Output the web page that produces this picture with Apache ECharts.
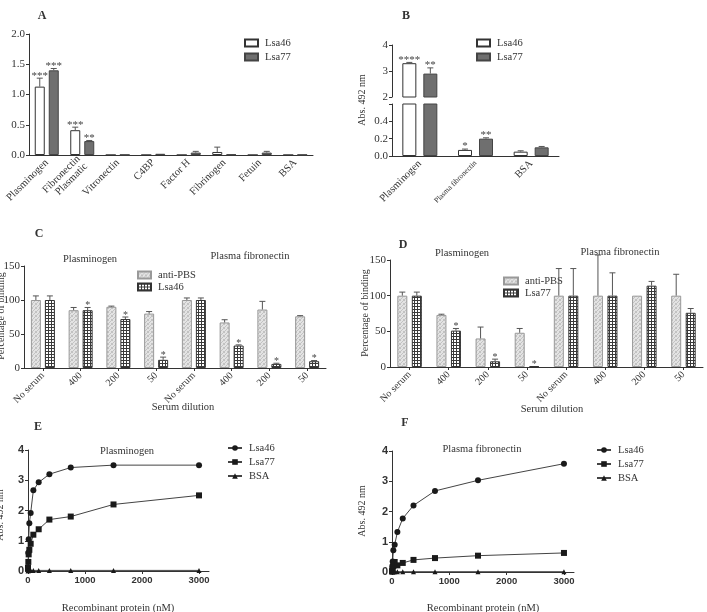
<!DOCTYPE html>
<html>
<head>
<meta charset="utf-8">
<script src="https://cdn.jsdelivr.net/npm/echarts@6/dist/echarts.min.js"></script>
<style>html,body{margin:0;padding:0;background:#fff}#chart{width:707px;height:612px}</style>
</head>
<body>
<div id="chart"></div>
<script>
// panel A - binding to ECM / plasma components
const catsA = ['Plasminogen', 'Fibronectin\nPlasmatic', 'Vitronectin', 'C4BP', 'Factor H', 'Fibrinogen', 'Fetuin', 'BSA'];
const a46 = [1.13, 0.41, 0, 0, 0, 0.05, 0, 0];
const a46Err = [1.27, 0.46, 0, 0, 0, 0.13, 0, 0];
const a46Sig = ['***', '***', '', '', '', '', '', ''];
const a77 = [1.40, 0.23, 0.005, 0.02, 0.04, 0.01, 0.04, 0.005];
const a77Err = [1.43, 0.24, 0.005, 0.025, 0.06, 0.015, 0.06, 0.005];
const a77Sig = ['***', '**', '', '', '', '', '', ''];

// panel B - broken axis
const catsB = ['Plasminogen', 'Plasma fibronectin', 'BSA'];
const b46 = [3.3, 0.07, 0.05];
const b46Err = [3.33, 0.08, 0.06];
const b46Sig = ['****', '*', ''];
const b77 = [2.9, 0.2, 0.1];
const b77Err = [3.12, 0.21, 0.11];
const b77Sig = ['**', '**', ''];

// panels C, D - inhibition by serum
const catsCD = ['No serum', '400', '200', '50', 'No serum', '400', '200', '50'];
const cPbs = [100, 85, 90, 80, 100, 67, 86, 76];
const cPbsErr = [106, 89, 91, 83, 103, 71, 98, 77];
const c46 = [100, 85, 72, 12, 100, 33, 6, 10];
const c46Err = [106, 89, 75, 16, 103, 34, 7, 11];
const c46Sig = ['', '*', '*', '*', '', '*', '*', '*'];
const dPbs = [100, 73, 40, 48, 100, 100, 100, 100];
const dPbsErr = [105, 74, 56, 54, 138, 157, 100, 130];
const d77 = [100, 51, 8, 1, 100, 100, 114, 76];
const d77Err = [105, 54, 11, 1.5, 138, 132, 120, 82];
const d77Sig = ['', '*', '*', '*', '', '', '', ''];

// panels E, F - dose response (nM)
const conc = [0, 5.86, 11.7, 23.4, 46.9, 93.75, 187.5, 375, 750, 1500, 3000];
const e46 = [0.1, 0.6, 1.05, 1.58, 1.92, 2.67, 2.93, 3.2, 3.42, 3.5, 3.5];
const e77 = [0.1, 0.3, 0.55, 0.7, 0.9, 1.2, 1.38, 1.7, 1.8, 2.2, 2.5];
const eBsa = [0.01, 0.01, 0.02, 0.02, 0.02, 0.02, 0.02, 0.02, 0.02, 0.02, 0.02];
const f46 = [0.05, 0.2, 0.35, 0.72, 0.9, 1.32, 1.77, 2.2, 2.68, 3.03, 3.58];
const f77 = [0.02, 0.05, 0.1, 0.2, 0.33, 0.22, 0.3, 0.4, 0.46, 0.54, 0.63];
const fBsa = [0.01, 0.01, 0.01, 0.01, 0.01, 0.01, 0.01, 0.01, 0.01, 0.01, 0.01];

const serif = '"Liberation Serif", "DejaVu Serif", serif';
const sans = '"Liberation Sans", Arial, sans-serif';
const ink = '#333';

function dots() {
  const c = document.createElement('canvas');
  c.width = 4; c.height = 4;
  const g = c.getContext('2d');
  g.fillStyle = '#e3e3e3'; g.fillRect(0, 0, 4, 4);
  g.fillStyle = '#c2c2c2';
  [[0, 0], [2, 1], [1, 2], [3, 3], [3, 0], [0, 3]].forEach(p => g.fillRect(p[0], p[1], 1, 1));
  return { image: c, repeat: 'repeat' };
}
function hatch() {
  const c = document.createElement('canvas');
  c.width = 3; c.height = 3;
  const g = c.getContext('2d');
  g.fillStyle = '#fff'; g.fillRect(0, 0, 3, 3);
  g.fillStyle = '#3a3a3a'; g.fillRect(0, 0, 3, 1); g.fillRect(0, 0, 1, 3);
  return { image: c, repeat: 'repeat' };
}

function errBars(xi, yi, vals, errs, sigs, dx, keep, sigSize) {
  return {
    type: 'custom', xAxisIndex: xi, yAxisIndex: yi, z: 10, silent: true,
    data: vals.map((v, i) => [i, v, errs[i]]),
    renderItem: function (params, api) {
      const i = params.dataIndex;
      if (keep && !keep(vals[i])) return null;
      const b = api.coord([i, vals[i]]);
      const t = api.coord([i, errs[i]]);
      const x = b[0] + dx;
      const kids = [];
      if (t[1] < b[1] - 0.5) {
        kids.push({ type: 'line', shape: { x1: x, y1: b[1], x2: x, y2: t[1] }, style: { stroke: '#555', lineWidth: 1 } });
        kids.push({ type: 'line', shape: { x1: x - 3, y1: t[1], x2: x + 3, y2: t[1] }, style: { stroke: '#555', lineWidth: 1 } });
      }
      const s = sigs ? sigs[i] : '';
      if (s) {
        kids.push({ type: 'text', x: x, y: t[1] + 3, style: { text: s, font: (sigSize || 11) + 'px ' + serif, fill: '#444', align: 'center', verticalAlign: 'bottom', textAlign: 'center', textVerticalAlign: 'bottom' } });
      }
      return { type: 'group', children: kids };
    }
  };
}

const axisLine = { show: true, lineStyle: { color: ink, width: 1 } };
const tick = { show: true, length: 3, lineStyle: { color: ink } };
function valY(grid, min, max, step, fmt, font) {
  return {
    type: 'value', gridIndex: grid, min: min, max: max, interval: step,
    axisLine: axisLine, axisTick: tick, splitLine: { show: false },
    axisLabel: { fontFamily: font || serif, fontSize: 11, color: ink, margin: 4, formatter: fmt, fontWeight: font === sans ? 'bold' : 'normal' }
  };
}
function catX(grid, data, size, ticks) {
  return {
    type: 'category', gridIndex: grid, data: data,
    axisLine: axisLine,
    axisTick: ticks ? { show: true, alignWithLabel: true, length: 3, lineStyle: { color: ink } } : { show: false },
    axisLabel: { rotate: 45, interval: 0, fontFamily: serif, fontSize: size, color: ink, margin: 6, lineHeight: size }
  };
}
function valX(grid) {
  return {
    type: 'value', gridIndex: grid, min: 0, max: 3175, interval: 1000,
    axisLine: axisLine, axisTick: tick, splitLine: { show: false },
    axisLabel: { fontFamily: sans, fontWeight: 'bold', fontSize: 9.5, color: ink, margin: 4, showMaxLabel: false,
      formatter: v => (v % 1000 === 0 ? String(v) : '') }
  };
}
function legendAt(names, left, top, w, h, gap, icon) {
  return {
    data: names, left: left, top: top, orient: 'vertical', selectedMode: false,
    itemWidth: w, itemHeight: h, itemGap: gap, icon: icon, padding: 0,
    formatter: n => n.split(' ').slice(0, -1).join(' '),
    textStyle: { fontFamily: serif, fontSize: 10.5, color: ink, lineHeight: 12, padding: [0, 0, 0, 2] }
  };
}
function lineS(name, xi, vals, symbol, size) {
  return {
    name: name, type: 'line', xAxisIndex: xi, yAxisIndex: xi, symbol: symbol, symbolSize: size,
    data: conc.map((c, i) => [c, vals[i]]),
    itemStyle: { color: '#1a1a1a' }, lineStyle: { color: '#444', width: 1 }
  };
}

const white = { color: '#fff', borderColor: ink, borderWidth: 1 };
const grey = { color: '#6f6f6f', borderColor: '#444', borderWidth: 1 };
const dotStyle = { color: dots(), borderColor: '#999', borderWidth: 1 };
const hatchStyle = { color: hatch(), borderColor: '#333', borderWidth: 1 };

function txt(text, x, y, size, opts) {
  opts = opts || {};
  return {
    type: 'text', x: x, y: y, rotation: opts.rot || 0, silent: true,
    style: { text: text, font: (opts.bold ? 'bold ' : '') + size + 'px ' + serif, fill: opts.fill || ink,
      align: 'center', verticalAlign: 'middle', textAlign: 'center', textVerticalAlign: 'middle' }
  };
}

const chart = echarts.init(document.getElementById('chart'), null, { renderer: 'canvas' });
chart.setOption({
  animation: false,
  backgroundColor: '#fff',
  grid: [
    { left: 29, top: 34, width: 284, height: 121 },
    { left: 392, top: 45, width: 167, height: 52 },
    { left: 392, top: 104, width: 167, height: 52 },
    { left: 24, top: 266, width: 302, height: 102 },
    { left: 390, top: 260, width: 313, height: 107 },
    { left: 28, top: 450, width: 181, height: 121 },
    { left: 392, top: 451, width: 182, height: 121 }
  ],
  xAxis: [
    catX(0, catsA, 10.5, false),
    Object.assign(catX(1, catsB, 10, false), { axisLine: { show: false }, axisLabel: { show: false } }),
    catX(2, [catsB[0], { value: catsB[1], textStyle: { fontSize: 7.5 } }, catsB[2]], 10.5, false),
    catX(3, catsCD, 10, true),
    catX(4, catsCD, 10, true),
    valX(5),
    valX(6)
  ],
  yAxis: [
    valY(0, 0, 2, 0.5, v => v.toFixed(1)),
    valY(1, 2, 4, 1, v => String(v)),
    valY(2, 0, 0.6, 0.2, v => (v < 0.55 ? v.toFixed(1) : '')),
    valY(3, 0, 150, 50),
    valY(4, 0, 150, 50),
    valY(5, 0, 4, 1, v => String(v), sans),
    valY(6, 0, 4, 1, v => String(v), sans)
  ],
  legend: [
    legendAt(['Lsa46 A', 'Lsa77 A'], 244, 37, 13, 7, 2, 'rect'),
    legendAt(['Lsa46 B', 'Lsa77 B'], 476, 37, 13, 7, 2, 'rect'),
    legendAt(['anti-PBS C', 'Lsa46 C'], 137, 269, 13, 7, 0, 'rect'),
    legendAt(['anti-PBS D', 'Lsa77 D'], 503, 275, 14, 7, 0, 'rect'),
    legendAt(['Lsa46 E', 'Lsa77 E', 'BSA E'], 227, 442, 14, 7, 2),
    legendAt(['Lsa46 F', 'Lsa77 F', 'BSA F'], 596, 444, 14, 7, 2)
  ],
  series: [
    // A
    { name: 'Lsa46 A', type: 'bar', xAxisIndex: 0, yAxisIndex: 0, data: a46, barWidth: 10, barGap: '40%', itemStyle: white },
    { name: 'Lsa77 A', type: 'bar', xAxisIndex: 0, yAxisIndex: 0, data: a77, barWidth: 10, barGap: '40%', itemStyle: grey },
    errBars(0, 0, a46, a46Err, a46Sig, -7),
    errBars(0, 0, a77, a77Err, a77Sig, 7),
    // B (top and bottom of the broken axis)
    { name: 'Lsa46 Bt', type: 'bar', xAxisIndex: 1, yAxisIndex: 1, data: b46, barWidth: 14, barGap: '50%', itemStyle: white },
    { name: 'Lsa77 Bt', type: 'bar', xAxisIndex: 1, yAxisIndex: 1, data: b77, barWidth: 14, barGap: '50%', itemStyle: grey },
    { name: 'Lsa46 B', type: 'bar', xAxisIndex: 2, yAxisIndex: 2, data: b46, barWidth: 14, barGap: '50%', itemStyle: white },
    { name: 'Lsa77 B', type: 'bar', xAxisIndex: 2, yAxisIndex: 2, data: b77, barWidth: 14, barGap: '50%', itemStyle: grey },
    errBars(1, 1, b46, b46Err, b46Sig, -10.5, v => v >= 2),
    errBars(1, 1, b77, b77Err, b77Sig, 10.5, v => v >= 2),
    errBars(2, 2, b46, b46Err, b46Sig, -10.5, v => v < 0.6),
    errBars(2, 2, b77, b77Err, b77Sig, 10.5, v => v < 0.6),
    // C
    { name: 'anti-PBS C', type: 'bar', xAxisIndex: 3, yAxisIndex: 3, data: cPbs, barWidth: 10, barGap: '40%', itemStyle: dotStyle },
    { name: 'Lsa46 C', type: 'bar', xAxisIndex: 3, yAxisIndex: 3, data: c46, barWidth: 10, barGap: '40%', itemStyle: hatchStyle },
    errBars(3, 3, cPbs, cPbsErr, null, -7),
    errBars(3, 3, c46, c46Err, c46Sig, 7, null, 10),
    // D
    { name: 'anti-PBS D', type: 'bar', xAxisIndex: 4, yAxisIndex: 4, data: dPbs, barWidth: 10, barGap: '45%', itemStyle: dotStyle },
    { name: 'Lsa77 D', type: 'bar', xAxisIndex: 4, yAxisIndex: 4, data: d77, barWidth: 10, barGap: '45%', itemStyle: hatchStyle },
    errBars(4, 4, dPbs, dPbsErr, null, -7.25),
    errBars(4, 4, d77, d77Err, d77Sig, 7.25, null, 10),
    // E, F
    lineS('Lsa46 E', 5, e46, 'circle', 6),
    lineS('Lsa77 E', 5, e77, 'rect', 6),
    lineS('BSA E', 5, eBsa, 'triangle', 5),
    lineS('Lsa46 F', 6, f46, 'circle', 6),
    lineS('Lsa77 F', 6, f77, 'rect', 6),
    lineS('BSA F', 6, fBsa, 'triangle', 5)
  ],
  graphic: [
    txt('A', 42, 16, 12, { bold: true }),
    txt('B', 406, 16, 12, { bold: true }),
    txt('C', 39, 234, 12, { bold: true }),
    txt('D', 403, 245, 12, { bold: true }),
    txt('E', 38, 427, 12, { bold: true }),
    txt('F', 405, 423, 12, { bold: true }),
    txt('Plasminogen', 90, 259, 10.5),
    txt('Plasma fibronectin', 250, 256, 10.5),
    txt('Plasminogen', 462, 253, 10.5),
    txt('Plasma fibronectin', 620, 252, 10.5),
    txt('Plasminogen', 127, 451, 10.5),
    txt('Plasma fibronectin', 482, 449, 10.5),
    txt('Serum dilution', 183, 407, 10.5),
    txt('Serum dilution', 552, 409, 10.5),
    txt('Recombinant protein (nM)', 118, 608, 10.5),
    txt('Recombinant protein (nM)', 483, 608, 10.5),
    txt('Abs. 492 nm', 362, 100, 10, { rot: Math.PI / 2 }),
    txt('Percentage of binding', 1, 316, 10, { rot: Math.PI / 2 }),
    txt('Percentage of binding', 365, 313, 10, { rot: Math.PI / 2 }),
    txt('Abs. 492 nm', 0, 515, 10, { rot: Math.PI / 2 }),
    txt('Abs. 492 nm', 362, 511, 10, { rot: Math.PI / 2 })
  ]
});
</script>
</body>
</html>
